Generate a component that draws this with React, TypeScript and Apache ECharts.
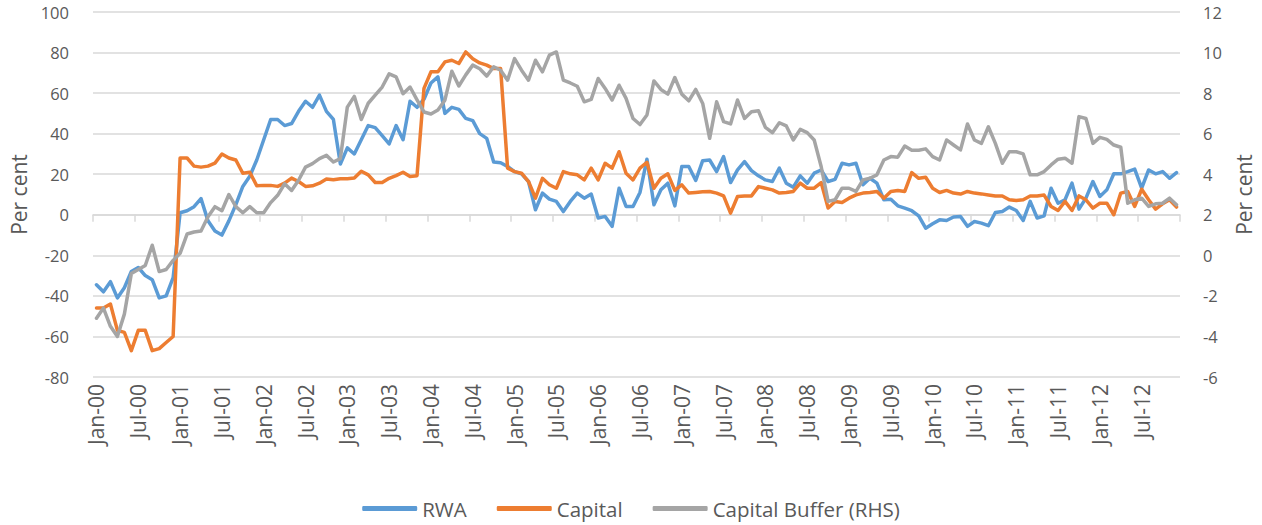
import React, { useEffect, useRef } from "react";
import * as echarts from "echarts";

const MONTHS = ["Jan", "Feb", "Mar", "Apr", "May", "Jun", "Jul", "Aug", "Sep", "Oct", "Nov", "Dec"];
const YEARS = ["00", "01", "02", "03", "04", "05", "06", "07", "08", "09", "10", "11", "12"];
const categories: string[] = YEARS.flatMap((y) => MONTHS.map((m) => `${m}-${y}`));

const rwa = [
  -34.5, -38, -33, -41, -36, -28, -26, -30, -32, -41, -40, -31,
  1, 2, 4, 8, -3, -8, -10, -3, 5, 14, 19, 27,
  37, 47, 47, 44, 45, 51, 56, 53, 59, 51, 47, 25,
  33, 30, 37, 44, 43, 39, 35, 44, 37, 56, 53, 57,
  65, 68, 50, 53, 52, 47.5, 46.4, 40, 37.7, 26, 25.7, 23.8,
  21.3, 20.2, 16.4, 2.5, 10.7, 7.7, 6.6, 1.6, 6.6, 10.7, 8.2, 10.2,
  -1.6, -0.8, -5.7, 13.1, 4.1, 4.1, 11, 27.4, 4.9, 12.3, 15.6, 4.4,
  23.8, 23.8, 16.9, 26.7, 27, 21.3, 28.7, 15.9, 22.1, 26.2, 21.8, 19.2,
  17.2, 16.4, 23, 15.6, 13.6, 19.2, 15.6, 20.5, 22.1, 16.4, 17.5, 25.4,
  24.6, 25.4, 14.8, 18, 15.6, 7.4, 7.7, 4.4, 3.3, 2, -0.5, -6.6,
  -4.4, -2.5, -2.8, -1.1, -0.8, -5.7, -3.3, -4.1, -5.4, 1.1, 1.6, 3.8,
  2.1, -2.8, 6.6, -1.6, -0.5, 13.1, 5.7, 7.4, 15.6, 2.8, 8.2, 16.4,
  9, 12.3, 20.2, 20.2, 21.3, 22.5, 13.1, 22.1, 20.2, 21.3, 18, 20.8,
];

const capital = [
  -46, -46, -44, -57, -58, -67, -57, -57, -67, -66, -63, -60,
  28, 28, 24, 23.5, 24, 25.5, 30, 28, 27, 20.5, 21, 14.3,
  14.5, 14.5, 14, 15.6, 18.1, 16.4, 14, 14.3, 15.6, 17.6, 17.3, 17.8,
  17.8, 18.1, 21.5, 19.7, 15.9, 15.9, 18, 19.3, 21, 18.9, 19.3, 62.3,
  70.5, 70.5, 75.4, 76.2, 74.6, 80.3, 77, 74.9, 73.8, 72.1, 72.1, 23,
  21.3, 20.5, 16.4, 8.2, 18, 14.8, 13.1, 21.3, 20.2, 19.7, 17.2, 23,
  17.2, 25.4, 23, 31.1, 20.5, 17.2, 23, 25.9, 13.1, 18, 20.2, 12,
  14.8, 10.7, 11, 11.3, 11.5, 10.7, 9.3, 0.8, 9, 9.3, 9.3, 13.9,
  13.1, 12.3, 10.7, 11, 11.5, 15.6, 13.1, 13.1, 15.9, 3.3, 6.6, 6.1,
  8.2, 9.8, 10.7, 11, 11.5, 8.2, 11.5, 12, 11.5, 20.8, 18, 18.5,
  13.1, 11, 12, 10.7, 10.2, 11.5, 10.7, 10.3, 9.8, 9.3, 9.3, 7.4,
  7, 7.4, 9.3, 9.3, 9.7, 4.1, 2.1, 6.6, 2.1, 9.3, 7.4, 3.3,
  5.7, 5.7, 0, 10.7, 11.5, 4.1, 12.6, 7.4, 2.8, 5.4, 7.4, 3.8,
];

const capitalBuffer = [
  -3.1, -2.6, -3.5, -4.0, -2.9, -0.9, -0.7, -0.5, 0.5, -0.8, -0.7, -0.25,
  0.1, 1.05, 1.15, 1.2, 1.9, 2.4, 2.2, 3.0, 2.4, 2.1, 2.4, 2.1,
  2.1, 2.6, 2.96, 3.53, 3.2, 3.7, 4.35, 4.52, 4.77, 4.93, 4.6, 4.77,
  7.31, 7.84, 6.7, 7.5, 7.9, 8.3, 8.95, 8.8, 7.97, 8.3, 7.67, 7.07,
  6.97, 7.17, 7.65, 9.08, 8.35, 8.9, 9.38, 9.2, 8.84, 9.3, 9.13, 8.64,
  9.7, 9.13, 8.64, 9.62, 9.05, 9.87, 10.03, 8.64, 8.5, 8.34, 7.57, 7.69,
  8.72, 8.23, 7.66, 8.39, 7.74, 6.75, 6.45, 6.92, 8.6, 8.18, 7.95, 8.77,
  7.95, 7.62, 8.18, 7.49, 5.77, 7.57, 6.59, 6.48, 7.66, 6.75, 7.08, 7.13,
  6.31, 6.05, 6.54, 6.38, 5.69, 6.21, 6.05, 5.69, 4.38, 2.66, 2.74, 3.31,
  3.31, 3.15, 3.72, 3.8, 3.97, 4.7, 4.87, 4.84, 5.39, 5.18, 5.18, 5.25,
  4.87, 4.7, 5.69, 5.44, 5.2, 6.48, 5.69, 5.52, 6.34, 5.52, 4.54, 5.11,
  5.11, 5, 3.97, 3.97, 4.13, 4.46, 4.74, 4.79, 4.54, 6.84, 6.75, 5.52,
  5.82, 5.72, 5.44, 5.33, 2.57, 2.74, 2.82, 2.41, 2.54, 2.57, 2.82, 2.49,
];

const FONT = "'Open Sans', 'Noto Sans', sans-serif";
const TEXT = "#595959";
const GRID = "#D9D9D9";

export default function App() {
  const ref = useRef<HTMLDivElement>(null);
  useEffect(() => {
    if (!ref.current) return;
    const chart = echarts.init(ref.current, null, { renderer: "svg" });
    chart.setOption({
      animation: false,
      backgroundColor: "#ffffff",
      textStyle: { fontFamily: FONT },
      grid: { left: 87, right: 69, top: 12, bottom: 148, containLabel: false },
      legend: {
        bottom: 1,
        left: "center",
        itemWidth: 55,
        itemHeight: 5,
        itemGap: 30,
        icon: "roundRect",
        textStyle: { fontFamily: FONT, fontSize: 20.5, color: TEXT },
        data: ["RWA", "Capital", "Capital Buffer (RHS)"],
      },
      xAxis: [
        {
          type: "category",
          data: categories,
          boundaryGap: true,
          axisLine: { show: false, onZero: false },
          axisTick: { show: false },
          splitLine: { show: false },
          axisLabel: {
            interval: 5,
            rotate: 90,
            margin: 7,
            color: TEXT,
            fontFamily: FONT,
            fontSize: 21,
          },
        },
        {
          type: "category",
          data: categories,
          boundaryGap: true,
          position: "bottom",
          axisLine: { show: true, onZero: true, onZeroAxisIndex: 0, lineStyle: { color: GRID, width: 1.5 } },
          axisTick: { show: true, interval: 5, length: 7, inside: false, lineStyle: { color: GRID, width: 1.5 } },
          axisLabel: { show: false },
          splitLine: { show: false },
        },
      ],
      yAxis: [
        {
          type: "value",
          min: -80,
          max: 100,
          interval: 20,
          name: "Per cent",
          nameLocation: "middle",
          nameRotate: 90,
          nameGap: 64,
          nameTextStyle: { fontFamily: FONT, fontSize: 21, color: TEXT },
          axisLine: { show: false },
          axisTick: { show: false },
          splitLine: { show: true, lineStyle: { color: GRID, width: 1.5 } },
          axisLabel: { color: TEXT, fontFamily: FONT, fontSize: 16.5, margin: 24 },
        },
        {
          type: "value",
          min: -6,
          max: 12,
          interval: 2,
          position: "right",
          name: "Per cent",
          nameLocation: "middle",
          nameRotate: 90,
          nameGap: 53,
          nameTextStyle: { fontFamily: FONT, fontSize: 21, color: TEXT },
          axisLine: { show: false },
          axisTick: { show: false },
          splitLine: { show: false },
          axisLabel: { color: TEXT, fontFamily: FONT, fontSize: 16.5, margin: 23 },
        },
      ],
      series: [
        {
          name: "RWA",
          type: "line",
          data: rwa,
          xAxisIndex: 0,
          yAxisIndex: 0,
          showSymbol: false,
          symbol: "none",
          lineStyle: { color: "#5B9BD5", width: 3.5, join: "round", cap: "round" },
          itemStyle: { color: "#5B9BD5" },
        },
        {
          name: "Capital",
          type: "line",
          data: capital,
          xAxisIndex: 0,
          yAxisIndex: 0,
          showSymbol: false,
          symbol: "none",
          lineStyle: { color: "#ED7D31", width: 3.5, join: "round", cap: "round" },
          itemStyle: { color: "#ED7D31" },
        },
        {
          name: "Capital Buffer (RHS)",
          type: "line",
          data: capitalBuffer,
          xAxisIndex: 0,
          yAxisIndex: 1,
          showSymbol: false,
          symbol: "none",
          lineStyle: { color: "#A5A5A5", width: 3.5, join: "round", cap: "round" },
          itemStyle: { color: "#A5A5A5" },
        },
      ],
    });
    return () => chart.dispose();
  }, []);
  return (
    <div
      ref={ref}
      style={{ position: "fixed", left: 0, top: 0, width: 1262, height: 525, background: "#fff" }}
    />
  );
}
